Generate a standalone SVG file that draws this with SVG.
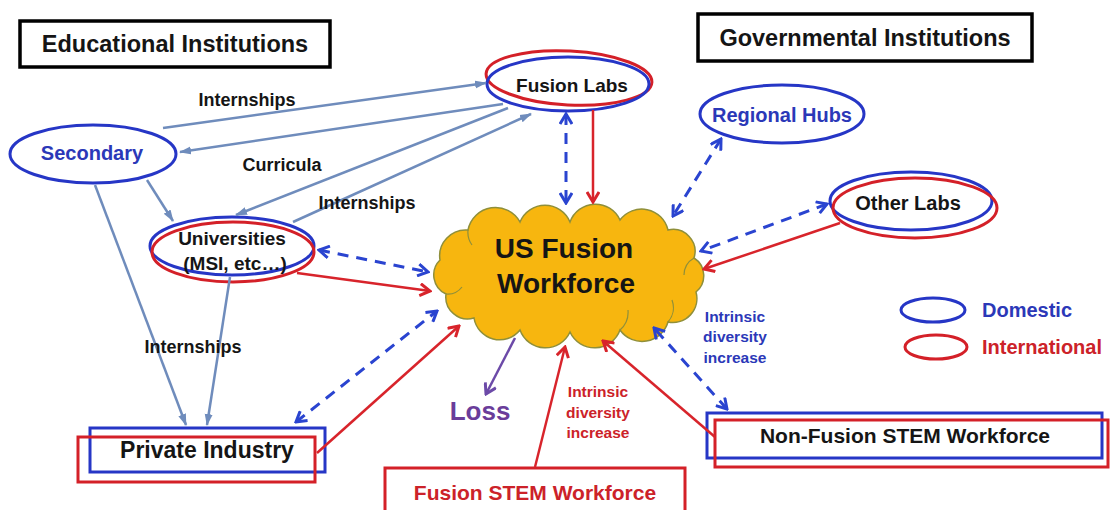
<svg xmlns="http://www.w3.org/2000/svg" width="1110" height="510" viewBox="0 0 1110 510">
<defs>
<style>
text{font-family:"Liberation Sans",Arial,sans-serif;font-weight:bold;text-anchor:middle}
.blk{fill:#151515}
.bl{fill:#2b38b8}
.rd{fill:#cc2229}
.pu{fill:#6a3d9a}
.ebl{fill:none;stroke:#2636c6;stroke-width:3}
.erd{fill:none;stroke:#d42028;stroke-width:3}
.hdr{fill:#fff;stroke:#000;stroke-width:3.5}
.gray{fill:none;stroke:#6f8cbc;stroke-width:2.5;marker-end:url(#ag)}
.dash{fill:none;stroke:#2a44d0;stroke-width:3;stroke-dasharray:11 8;marker-start:url(#ab);marker-end:url(#ab)}
.red{fill:none;stroke:#d8242b;stroke-width:2.5;marker-end:url(#ar)}
.pur{fill:none;stroke:#6c4aa8;stroke-width:2.5;marker-end:url(#ap)}
</style>
<marker id="ag" markerUnits="userSpaceOnUse" viewBox="0 0 12 10" refX="11" refY="5" markerWidth="12" markerHeight="10" orient="auto"><path d="M0,1 L12,5 L0,9 Z" fill="#6f8cbc"/></marker>
<marker id="ab" markerUnits="userSpaceOnUse" viewBox="0 0 14 14" refX="12" refY="7" markerWidth="14" markerHeight="14" orient="auto-start-reverse"><path d="M2,1 L12,7 L2,13" fill="none" stroke="#2a44d0" stroke-width="3"/></marker>
<marker id="ar" markerUnits="userSpaceOnUse" viewBox="0 0 14 14" refX="12" refY="7" markerWidth="14" markerHeight="14" orient="auto"><path d="M2,1 L12,7 L2,13" fill="none" stroke="#d8242b" stroke-width="3"/></marker>
<marker id="ap" markerUnits="userSpaceOnUse" viewBox="0 0 14 14" refX="12" refY="7" markerWidth="14" markerHeight="14" orient="auto"><path d="M2,1 L12,7 L2,13" fill="none" stroke="#6c4aa8" stroke-width="3"/></marker>
</defs>
<rect width="1110" height="510" fill="#fff"/>

<g id="educational-institutions">
<rect class="hdr" x="20" y="21" width="310" height="46"/>
<text class="blk" x="175" y="52" font-size="23.5">Educational Institutions</text>
</g>

<g id="governmental-institutions">
<rect class="hdr" x="698" y="14" width="334" height="47"/>
<text class="blk" x="865" y="46" font-size="23.5">Governmental Institutions</text>
</g>

<g id="fusion-labs">
<ellipse class="erd" cx="569" cy="78" rx="83" ry="27" transform="rotate(3 569 78)"/>
<ellipse class="ebl" cx="568" cy="84" rx="81" ry="27"/>
<text class="blk" x="572" y="92" font-size="19">Fusion Labs</text>
</g>

<g id="regional-hubs">
<ellipse class="ebl" cx="782" cy="114" rx="82" ry="29"/>
<text class="bl" x="782" y="122" font-size="20">Regional Hubs</text>
</g>

<g id="other-labs">
<ellipse class="ebl" cx="911" cy="201" rx="81" ry="29"/>
<ellipse class="erd" cx="915" cy="208" rx="82" ry="30"/>
<text class="blk" x="908" y="210" font-size="20">Other Labs</text>
</g>

<g id="secondary">
<ellipse class="ebl" cx="93" cy="154" rx="83" ry="29"/>
<text class="bl" x="92" y="160" font-size="20">Secondary</text>
</g>

<g id="universities">
<ellipse class="ebl" cx="232" cy="246" rx="82" ry="29"/>
<ellipse class="erd" cx="233" cy="252" rx="81" ry="30"/>
<text class="blk" x="232" y="245" font-size="19">Universities</text>
<text class="blk" x="235" y="270" font-size="19">(MSI, etc…)</text>
</g>

<g id="us-fusion-workforce">
<path d="M440,260 A26,26 0 0 1 468,230 A28,28 0 0 1 520,222 A27,27 0 0 1 570,222 A27,27 0 0 1 620,220 A27,27 0 0 1 668,230 A22,22 0 0 1 694,258 A21,21 0 0 1 696,292 A24,24 0 0 1 668,322 A27,27 0 0 1 620,330 A27,27 0 0 1 570,332 A27,27 0 0 1 520,330 A26,26 0 0 1 474,318 A22,22 0 0 1 446,294 A21,21 0 0 1 440,260 Z" fill="#f7b60f" stroke="#8f8f3a" stroke-width="1.5"/>
<path d="M468,230 A22,22 0 0 0 472,245 M446,294 A18,18 0 0 0 462,287 M620,330 A24,24 0 0 0 628,310 M668,322 A22,22 0 0 0 672,300 M694,258 A20,20 0 0 0 684,275" fill="none" stroke="#8f8f3a" stroke-width="1.2"/>
<text class="blk" x="564" y="258" font-size="28">US Fusion</text>
<text class="blk" x="566" y="293" font-size="28">Workforce</text>
</g>

<g id="loss">
<text class="pu" x="480" y="420" font-size="26">Loss</text>
</g>

<g id="private-industry">
<rect class="ebl" x="90" y="428" width="235" height="44"/>
<rect class="erd" x="78" y="437" width="237" height="45"/>
<text class="blk" x="207" y="458" font-size="23">Private Industry</text>
</g>

<g id="fusion-stem-workforce">
<rect class="erd" x="385" y="468" width="300" height="50"/>
<text class="rd" x="535" y="500" font-size="21">Fusion STEM Workforce</text>
</g>

<g id="non-fusion-stem-workforce">
<rect class="ebl" x="707" y="413" width="395" height="45"/>
<rect class="erd" x="715" y="420" width="393" height="47"/>
<text class="blk" x="905" y="443" font-size="21">Non-Fusion STEM Workforce</text>
</g>

<g id="legend">
<ellipse class="ebl" cx="933" cy="310" rx="32" ry="12"/>
<text class="bl" x="982" y="317" font-size="20" style="text-anchor:start">Domestic</text>
<ellipse class="erd" cx="936" cy="347" rx="31" ry="12"/>
<text class="rd" x="982" y="354" font-size="20" style="text-anchor:start">International</text>
</g>

<g id="connectors">
<line class="gray" x1="163" y1="128" x2="486" y2="83"/>
<line class="gray" x1="503" y1="104" x2="180" y2="152"/>
<line class="gray" x1="508" y1="108" x2="236" y2="215"/>
<line class="gray" x1="293" y1="222" x2="531" y2="114"/>
<line class="gray" x1="147" y1="180" x2="173" y2="221"/>
<line class="gray" x1="95" y1="185" x2="186" y2="425"/>
<line class="gray" x1="230" y1="277" x2="207" y2="425"/>

<line class="dash" x1="566" y1="114" x2="566" y2="203"/>
<line class="dash" x1="721" y1="139" x2="673" y2="216"/>
<line class="dash" x1="827" y1="204" x2="701" y2="251"/>
<line class="dash" x1="319" y1="250" x2="428" y2="272"/>
<line class="dash" x1="296" y1="422" x2="437" y2="311"/>
<line class="dash" x1="727" y1="409" x2="654" y2="328"/>

<line class="red" x1="593" y1="110" x2="593" y2="202"/>
<line class="red" x1="840" y1="223" x2="704" y2="269"/>
<line class="red" x1="297" y1="273" x2="430" y2="291"/>
<line class="red" x1="317" y1="453" x2="459" y2="326"/>
<line class="red" x1="535" y1="467" x2="565" y2="347"/>
<line class="red" x1="715" y1="437" x2="603" y2="341"/>

<line class="pur" x1="515" y1="338" x2="486" y2="394"/>

<text class="blk" x="247" y="106" font-size="18">Internships</text>
<text class="blk" x="282" y="171" font-size="18">Curricula</text>
<text class="blk" x="367" y="209" font-size="18">Internships</text>
<text class="blk" x="193" y="353" font-size="18">Internships</text>
<text class="bl" x="735" y="322" font-size="15.5">Intrinsic</text>
<text class="bl" x="735" y="342" font-size="15.5">diversity</text>
<text class="bl" x="735" y="363" font-size="15.5">increase</text>
<text class="rd" x="598" y="397" font-size="15.5">Intrinsic</text>
<text class="rd" x="598" y="418" font-size="15.5">diversity</text>
<text class="rd" x="598" y="438" font-size="15.5">increase</text>
</g>
</svg>
